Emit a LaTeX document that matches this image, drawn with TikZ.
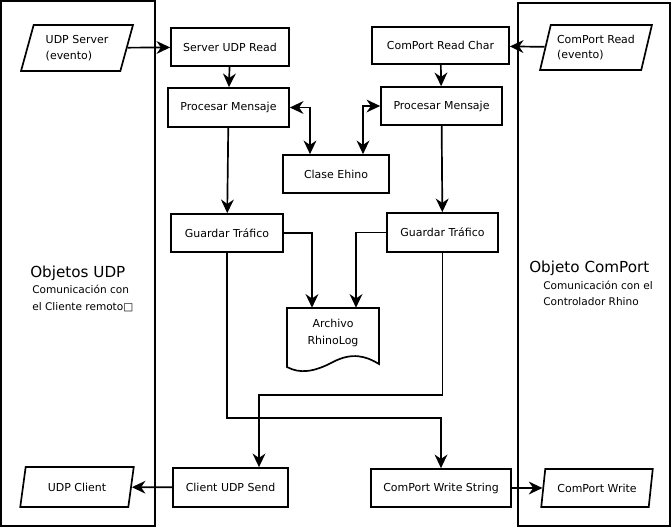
\documentclass[tikz,border=0pt]{standalone}
\usepackage{fontspec}
\setmainfont{DejaVu Sans}
\usetikzlibrary{shapes.geometric}
\usetikzlibrary{arrows.meta}

\begin{document}
\begin{tikzpicture}[x=0.025cm, y=-0.025cm,
    group/.style={shape=rectangle, draw=black, line width=1.3pt, inner sep=0pt},
    proc/.style={shape=rectangle, draw=black, line width=1.2pt, inner sep=0pt, minimum height=0.95cm, font=\fontsize{7.8}{9.5}\selectfont},
    io/.style={shape=trapezium, trapezium left angle=70, trapezium right angle=110, trapezium stretches=true, draw=black, line width=1.2pt, align=left, inner sep=0pt, font=\fontsize{7.8}{11}\selectfont},
    arr/.style={line width=1.2pt, -{Stealth[length=3.4mm, width=3.2mm, inset=1.1mm]}},
    both/.style={line width=1.2pt, {Stealth[length=3.4mm, width=3.2mm, inset=1.1mm]}-{Stealth[length=3.4mm, width=3.2mm, inset=1.1mm]}},
    grouptitle/.style={anchor=west, inner sep=0pt, font=\fontsize{10.8}{13}\selectfont},
    groupnote/.style={anchor=west, inner sep=0pt, align=left, font=\fontsize{7.5}{11.5}\selectfont}]
    \useasboundingbox (0,0) rectangle (672,529);

    % object frames
    \node[group, minimum width=3.85cm, minimum height=13.125cm] (udpobj) at (78,263.5) {};
    \node[group, minimum width=3.8cm, minimum height=13.075cm] (comobj) at (594,264.5) {};
    \node[grouptitle] (udptitle) at (30,273) {Objetos UDP};
    \node[groupnote] (udpnote) at (32,298.5) {Comunicación con\\el Cliente remoto□};
    \node[grouptitle] (comtitle) at (529,268) {Objeto ComPort};
    \node[groupnote] (comnote) at (543,293.5) {Comunicación con el\\Controlador Rhino};

    % inputs and outputs
    \node[io, minimum width=2.8cm, minimum height=1.15cm] (udpsrv) at (77,48) {UDP Server\\(evento)};
    \node[io, minimum width=2.8cm, minimum height=1.125cm] (comrd) at (596,47.5) {ComPort Read\\(evento)};
    \node[io, minimum width=2.85cm, minimum height=1.0cm] (udpcli) at (77,487) {UDP Client};
    \node[io, minimum width=2.8cm, minimum height=0.95cm] (comwr) at (597,488) {ComPort Write};

    % processes
    \node[proc, minimum width=2.95cm] (srvread) at (230,47) {Server UDP Read};
    \node[proc, minimum width=3.025cm, minimum height=0.975cm] (procL) at (228.5,107.5) {Procesar Mensaje};
    \node[proc, minimum width=3.425cm, minimum height=0.925cm] (comread) at (440.5,45.5) {ComPort Read Char};
    \node[proc, minimum width=3.025cm] (procR) at (441.5,106) {Procesar Mensaje};
    \node[proc, minimum width=2.65cm] (clase) at (336,174) {Clase Ehino};
    \node[proc, minimum width=2.8cm] (guardL) at (227,233) {Guardar Tráfico};
    \node[proc, minimum width=2.775cm, minimum height=0.975cm] (guardR) at (442.5,232.5) {Guardar Tráfico};
    \node[proc, minimum width=2.875cm, minimum height=0.975cm] (clisend) at (230.5,487.5) {Client UDP Send};
    \node[proc, minimum width=3.5cm] (comwrs) at (441,488) {ComPort Write String};

    % log file
    \node[align=center, inner sep=0pt, minimum width=2.3cm, minimum height=1.25cm, font=\fontsize{7.8}{11.5}\selectfont] (archivo) at (333,333) {Archivo\\RhinoLog};
    \draw[line width=1.2pt] (287,308) -- (379,308) -- (379,364)
        .. controls (366,356) and (352,352) .. (333,362)
        .. controls (314,372) and (300,374) .. (287,367) -- cycle;

    \coordinate (bendL) at (441,418);
    \coordinate (bendR) at (259,395);

    \draw[arr] (udpsrv) -- (srvread);
    \draw[arr] (srvread) -- (procL);
    \draw[both] (procL.east) -| ([xshift=-0.65cm]clase.north);
    \draw[arr] (comrd) -- (comread);
    \draw[arr] (comread) -- (procR);
    \draw[both] (procR.west) -| ([xshift=0.675cm]clase.north);
    \draw[arr] (procL) -- (guardL);
    \draw[arr] (procR) -- (guardR);
    \draw[arr] (guardL.east) -| ([xshift=-0.525cm]archivo.north);
    \draw[arr] (guardR.west) -| ([xshift=0.575cm]archivo.north);
    \draw[arr] (guardL.south) |- (bendL) -- (comwrs.north);
    \draw[arr] (guardR.south) |- (bendR) -- (bendR |- clisend.north);
    \draw[arr] (clisend) -- (udpcli);
    \draw[arr] (comwrs) -- (comwr);
\end{tikzpicture}
\end{document}
